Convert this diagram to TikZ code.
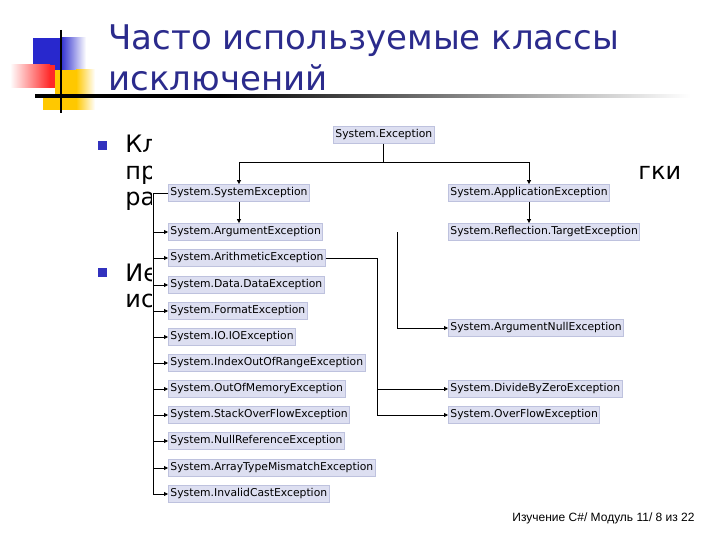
\documentclass[tikz,border=0pt]{standalone}
\usepackage{fontspec}
\setmainfont{DejaVu Sans}
\newfontfamily\footfont{Liberation Sans}
\usetikzlibrary{arrows.meta,positioning,calc}

\definecolor{titleblue}{RGB}{43,43,140}
\definecolor{boxfill}{RGB}{221,223,241}
\definecolor{boxline}{RGB}{190,194,222}
\definecolor{decoblue}{RGB}{40,40,205}
\definecolor{decored}{RGB}{255,40,40}
\definecolor{decoyellow}{RGB}{255,200,0}
\definecolor{bulletblue}{RGB}{50,50,190}

\tikzset{
  excbox/.style={draw=boxline, fill=boxfill, font=\fontsize{10.8}{12}\selectfont,
    inner xsep=2pt, inner ysep=0pt, minimum height=17pt, anchor=west},
  arr/.style={-{Triangle[length=4pt,width=4pt]}},
  bullettext/.style={font=\fontsize{24}{26}\selectfont, anchor=base west, inner sep=0pt},
  titletext/.style={font=\fontsize{34}{40}\selectfont, text=titleblue, anchor=base west, inner sep=0pt},
}

\begin{document}
\begin{tikzpicture}[x=1pt,y=-1pt,line width=0.8pt]
    \useasboundingbox (0,0) rectangle (720,540);

    % Title decoration
    \fill[decoblue] (33,38) rectangle (60,70);
    \shade[left color=decoblue, right color=white] (60,38) rectangle (86,70);
    \fill[decoyellow] (55,70) rectangle (76,110);
    \fill[decoyellow] (43,97) rectangle (55,110);
    \shade[left color=decoyellow, right color=white] (76,70) rectangle (95,110);
    \shade[left color=white, right color=decored] (10,65) rectangle (50,88);
    \fill[decored] (50,65) rectangle (55,88);
    \fill[black] (35,94.5) rectangle (220,98);
    \shade[left color=black, right color=white] (220,94.5) rectangle (690,98);
    \draw[line width=2.5pt] (61,30) -- (61,113);

    % Title
    \node[titletext] (title1) at (108,50) {Часто используемые классы};
    \node[titletext] (title2) at (108,91) {исключений};

    % Bullets (mostly hidden behind the diagram)
    \fill[bulletblue] (98,141) rectangle (107,150);
    \fill[bulletblue] (98,268) rectangle (107,277);
    \node[bullettext] (kl) at (125,153) {Кл};
    \node[bullettext] (pr) at (125,180) {пр};
    \node[bullettext] (ra) at (125,206) {ра};
    \node[bullettext] (gki) at (638,180) {гки};
    \node[bullettext] (ie) at (125,281) {Ие};
    \node[bullettext] (is) at (125,307) {ис};

    % Diagram canvas
    \fill[white] (152,115) rectangle (637,505);

    % Exception classes
    \node[excbox] (exc) at (333,135) {System.Exception};
    \node[excbox] (sys) at (168,193) {System.SystemException};
    \node[excbox] (app) at (448,193) {System.ApplicationException};
    \node[excbox] (target) at (448,232) {System.Reflection.TargetException};
    \foreach \n/\t/\y in {arg/ArgumentException/232, arith/ArithmeticException/258,
        data/Data.DataException/285, format/FormatException/311, io/IO.IOException/337,
        index/IndexOutOfRangeException/363, oom/OutOfMemoryException/389,
        stack/StackOverFlowException/415, nullref/NullReferenceException/441,
        array/ArrayTypeMismatchException/468, cast/InvalidCastException/494}
        \node[excbox] (\n) at (168,\y) {System.\t};
    \node[excbox] (argnull) at (448,328) {System.ArgumentNullException};
    \node[excbox] (divzero) at (448,389) {System.DivideByZeroException};
    \node[excbox] (overflow) at (448,415) {System.OverFlowException};

    % Connectors
    \coordinate (excbus) at (383,162);
    \draw (exc.south -| excbus) -- (excbus);
    \draw[arr] (excbus) -| (sys.north);
    \draw[arr] (excbus) -| (app.north);
    \draw[arr] (sys.south) -- (sys.south |- arg.north);
    \draw[arr] (app.south) -- (app.south |- target.north);

    \coordinate (sysbus) at (153,193);
    \draw (sys.west) -- (sysbus) -- (sysbus |- cast.west);
    \foreach \n in {arg,arith,data,format,io,index,oom,stack,nullref,array,cast}
        \draw[arr] (sysbus |- \n.west) -- (\n.west);

    \coordinate (arithbus) at (377,258);
    \draw[arr] (arith.east) -- (arithbus) |- (overflow.west);
    \draw[arr] (arithbus |- divzero.west) -- (divzero.west);

    \coordinate (argtop) at (397,232);
    \draw[arr] (argtop) |- (argnull.west);

    % Footer
    \node[anchor=base east, inner sep=0pt, font=\footfont\fontsize{12}{14}\selectfont]
        (footer) at (695,521) {Изучение C\#/ Модуль 11/ 8 из 22};
\end{tikzpicture}
\end{document}
